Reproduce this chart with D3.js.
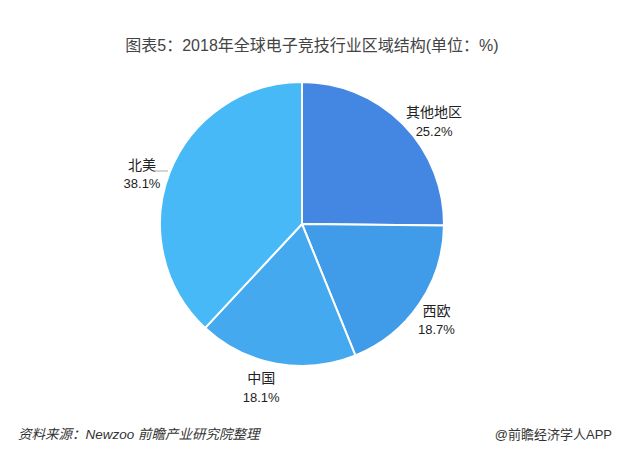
<!DOCTYPE html>
<html><head><meta charset="utf-8">
<script src="https://cdn.jsdelivr.net/npm/d3@7"></script>
<style>
html,body{margin:0;padding:0;background:#fff;}
svg{display:block;font-family:"Liberation Sans","Noto Sans CJK SC",Arial,sans-serif;}
</style></head>
<body>
<svg id="chart" width="643" height="451"></svg>
<script>
const categories = ["其他地区", "西欧", "中国", "北美"];
const values = [25.2, 18.7, 18.1, 38.1];
const valueLabels = ["25.2%", "18.7%", "18.1%", "38.1%"];
const colors = ["#4387e2", "#409ce9", "#45a9f0", "#47b9f7"];

const svg = d3.select("#chart");
const cx = 302, cy = 224, R = 142;

svg.append("text").attr("x", 312).attr("y", 51).attr("text-anchor", "middle")
  .attr("font-size", 16).attr("fill", "#444")
  .text("图表5：2018年全球电子竞技行业区域结构(单位：%)");

const data = categories.map((c, i) => ({cat: c, val: values[i], lab: valueLabels[i], col: colors[i]}));
const pie = d3.pie().value(d => d.val).sort(null);
const arc = d3.arc().innerRadius(0).outerRadius(R);
const arcs = pie(data);

const g = svg.append("g").attr("transform", `translate(${cx},${cy})`);
g.selectAll("path").data(arcs).enter().append("path")
  .attr("d", arc).attr("fill", d => d.data.col)
  .attr("stroke", "#fff").attr("stroke-width", 2).attr("stroke-linejoin", "round");

const labelArc = d3.arc().innerRadius(R * 1.12).outerRadius(R * 1.12);
const labelOffsets = [[19, 5], [3, 2], [-12, 3], [-12, 4]];
arcs.forEach((a, i) => {
  const [x, y] = labelArc.centroid(a);
  const lx = cx + x + labelOffsets[i][0], ly = cy + y + labelOffsets[i][1];
  const t = svg.append("text").attr("text-anchor", "middle").attr("font-size", 14).attr("fill", "#222");
  t.append("tspan").attr("x", lx).attr("y", ly).text(a.data.cat);
  t.append("tspan").attr("x", lx).attr("y", ly + 18.5).attr("font-size", 13).text(a.data.lab);
});

svg.append("line").attr("x1", 153).attr("y1", 171).attr("x2", 168).attr("y2", 171)
  .attr("stroke", "#aaa").attr("stroke-width", 1);

svg.append("text").attr("x", 18).attr("y", 439).attr("font-size", 13.5).attr("fill", "#333")
  .attr("font-style", "italic").text("资料来源：Newzoo 前瞻产业研究院整理");
svg.append("text").attr("x", 612).attr("y", 439).attr("font-size", 13).attr("fill", "#333")
  .attr("text-anchor", "end").text("@前瞻经济学人APP");
</script>
</body></html>
